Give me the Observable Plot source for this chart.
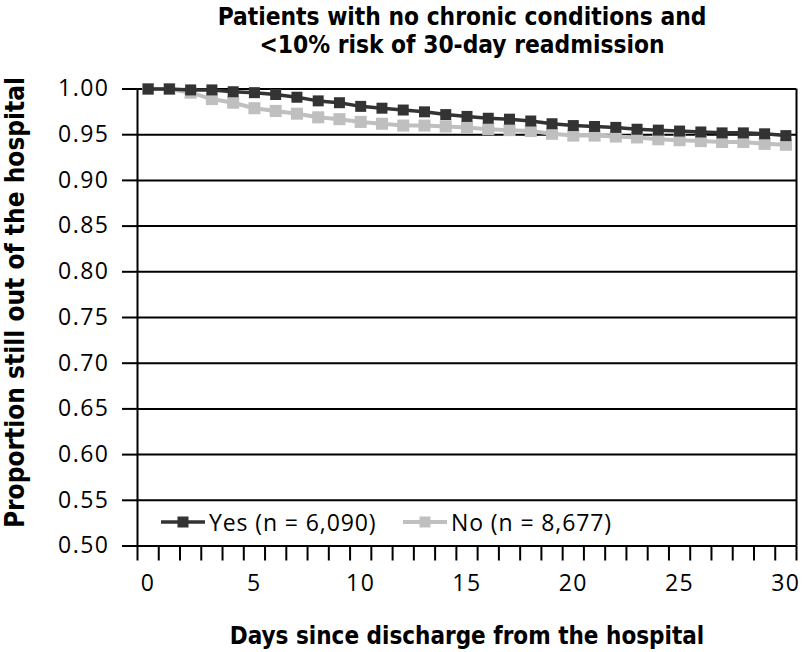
<!DOCTYPE html>
<html>
<head>
<meta charset="utf-8">
<script src="https://cdn.jsdelivr.net/npm/d3@7"></script>
<script src="https://cdn.jsdelivr.net/npm/@observablehq/plot@0.6"></script>
<style>
  body { margin: 0; background: #fff; }
  #wrap { position: relative; width: 802px; height: 652px; overflow: hidden; }
  #title { width: 802px; height: 64px; box-sizing: border-box; padding: 3px 0 0 122px; text-align: center;
    font-family: "DejaVu Sans Condensed", "Open Sans", sans-serif; font-weight: bold; font-size: 24.3px; line-height: 28px; color: #000; }
  .leg { position: absolute; display: flex; align-items: center; height: 28px;
    font-family: "Open Sans", sans-serif; font-size: 23px; letter-spacing: 0.9px; color: #000; white-space: nowrap; }
  .leg svg { display: block; margin-right: 4px; }
  #chart svg g[aria-label="y-axis tick label"] text, #chart svg g[aria-label="x-axis tick label"] text { letter-spacing: 1.5px; }
</style>
</head>
<body>
<div id="wrap">
  <div id="title"></div>
  <div id="chart"></div>
</div>
<script>
// ---- data ----
const titleLines = ["Patients with no chronic conditions and", "<10% risk of 30-day readmission"];
const xTitle = "Days since discharge from the hospital";
const yTitle = "Proportion still out of the hospital";
const days = d3.range(0, 31);
const yesVals = [1.000, 1.000, 0.999, 0.999, 0.997, 0.996, 0.994, 0.991, 0.987, 0.985, 0.981,
                 0.979, 0.977, 0.975, 0.972, 0.970, 0.968, 0.967, 0.965, 0.962, 0.960,
                 0.959, 0.958, 0.956, 0.955, 0.954, 0.953, 0.952, 0.952, 0.951, 0.949];
const noVals  = [1.000, 1.000, 0.996, 0.989, 0.985, 0.979, 0.976, 0.973, 0.969, 0.967, 0.964,
                 0.962, 0.960, 0.960, 0.959, 0.958, 0.956, 0.955, 0.954, 0.951, 0.949,
                 0.949, 0.948, 0.947, 0.945, 0.944, 0.943, 0.942, 0.942, 0.940, 0.939];
const seriesNames = ["Yes (n = 6,090)", "No (n = 8,677)"];
const seriesColors = ["#333333", "#bfbfbf"];
const yTicks = [0.50, 0.55, 0.60, 0.65, 0.70, 0.75, 0.80, 0.85, 0.90, 0.95, 1.00];
const xLabelTicks = [0, 5, 10, 15, 20, 25, 30];
const xDomain = [-0.5, 30.5];
const yDomain = [0.5, 1.0];
const xBoundaryTicks = d3.range(xDomain[0], xDomain[1] + 0.01, 1);

// ---- build ----
document.getElementById("title").innerHTML = titleLines.map(t => t.replace(/</g, "&lt;")).join("<br>");

const yesRows = days.map((d, i) => ({day: d, v: yesVals[i]}));
const noRows = days.map((d, i) => ({day: d, v: noVals[i]}));

const chart = Plot.plot({
  width: 802,
  height: 588,
  marginTop: 24.5,
  marginBottom: 106.5,
  marginLeft: 137,
  marginRight: 6,
  x: {domain: xDomain},
  y: {domain: yDomain},
  style: {fontFamily: "Open Sans, sans-serif", fontSize: "23px", color: "#000", background: "#fff"},
  marks: [
    Plot.ruleY(yTicks, {stroke: "#000", strokeWidth: 2}),
    Plot.ruleX(xDomain, {y1: yDomain[0], y2: yDomain[1], stroke: "#000", strokeWidth: 2}),
    Plot.axisY({ticks: yTicks, tickSize: 15, tickPadding: 13, tickFormat: d3.format(".2f"), label: null, strokeWidth: 2, fontSize: 23}),
    Plot.axisX({ticks: xBoundaryTicks, tickSize: 15, tickFormat: () => "", label: null, strokeWidth: 2}),
    Plot.axisX({ticks: xLabelTicks, tickSize: 0, tickPadding: 29, tickFormat: d3.format("d"), label: null, fontSize: 23}),
    Plot.line(noRows, {x: "day", y: "v", stroke: seriesColors[1], strokeWidth: 4}),
    Plot.dot(noRows, {x: "day", y: "v", symbol: "square", r: 6.8, fill: seriesColors[1], stroke: "none"}),
    Plot.line(yesRows, {x: "day", y: "v", stroke: seriesColors[0], strokeWidth: 3.5}),
    Plot.dot(yesRows, {x: "day", y: "v", symbol: "square", r: 6.2, fill: seriesColors[0], stroke: "none"}),
    Plot.text([xTitle], {frameAnchor: "bottom", dy: 90, lineAnchor: "middle", fontFamily: "DejaVu Sans Condensed, sans-serif", fontWeight: "bold", fontSize: 24, fill: "#000"}),
    Plot.text([yTitle], {frameAnchor: "left", dx: -122, dy: -15, rotate: -90, lineAnchor: "middle", textAnchor: "middle", fontFamily: "DejaVu Sans Condensed, sans-serif", fontWeight: "bold", fontSize: 26, fill: "#000"})
  ]
});
document.getElementById("chart").appendChild(chart);

// ---- legend (inside plot area, bottom-left) ----
const wrap = document.getElementById("wrap");
const legendLeft = [161, 403];
seriesNames.forEach((name, i) => {
  const div = document.createElement("div");
  div.className = "leg";
  div.style.left = legendLeft[i] + "px";
  div.style.top = "508px";
  const sw = d3.create("svg").attr("width", 44).attr("height", 16);
  sw.append("line").attr("x1", 0).attr("x2", 44).attr("y1", 8).attr("y2", 8)
    .attr("stroke", seriesColors[i]).attr("stroke-width", i === 0 ? 3.5 : 4);
  sw.append("rect").attr("x", 22 - 5.5).attr("y", 8 - 5.5).attr("width", 11).attr("height", 11).attr("fill", seriesColors[i]);
  div.appendChild(sw.node());
  const span = document.createElement("span");
  span.textContent = name;
  div.appendChild(span);
  wrap.appendChild(div);
});
</script>
</body>
</html>
